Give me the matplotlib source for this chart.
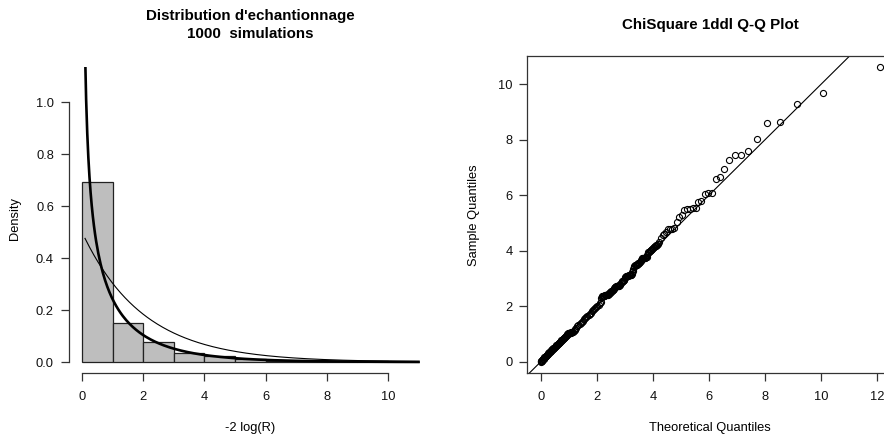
import math
import numpy as np
import matplotlib
matplotlib.use("Agg")
import matplotlib.pyplot as plt

plt.rcParams['font.family'] = ['Liberation Sans', 'DejaVu Sans']

# ---------------- data ----------------
bin_edges = [0, 1, 2, 3, 4, 5, 6, 7, 8, 9, 10, 11]
bin_density = [0.691, 0.151, 0.078, 0.033, 0.022, 0.010, 0.005, 0.004, 0.003, 0.002, 0.001]
df_thick = 1      # chi-square 1 ddl density
df_thin = 2       # chi-square 2 ddl density
curve_from, curve_to = 0.1, 11.0

x_ticks_left = [0, 2, 4, 6, 8, 10]
y_ticks_left = [0.0, 0.2, 0.4, 0.6, 0.8, 1.0]
y_ticklabels_left = ["0.0", "0.2", "0.4", "0.6", "0.8", "1.0"]

qq_theoretical = [
    0.00, 0.01, 0.02, 0.03, 0.05, 0.07, 0.09, 0.11, 0.13, 0.15, 0.18, 0.21, 0.24, 0.27, 0.30,
    0.33, 0.36, 0.39, 0.42, 0.45, 0.48, 0.51, 0.54, 0.57, 0.60, 0.63, 0.66, 0.69, 0.72, 0.75,
    0.78, 0.81, 0.84, 0.87, 0.90, 0.93, 0.96, 0.99, 1.02, 1.05, 1.08, 1.11, 1.14, 1.17, 1.20,
    1.23, 1.26, 1.30, 1.34, 1.38, 1.42, 1.46, 1.50, 1.54, 1.58, 1.62, 1.66, 1.70, 1.74, 1.78,
    1.82, 1.86, 1.90, 1.94, 1.98, 2.02, 2.06, 2.10, 2.14, 2.18, 2.21, 2.24, 2.27, 2.30, 2.34,
    2.38, 2.42, 2.46, 2.50, 2.54, 2.58, 2.62, 2.66, 2.70, 2.74, 2.78, 2.82, 2.86, 2.90, 2.94,
    2.98, 3.02, 3.06, 3.10, 3.14, 3.18, 3.22, 3.26, 3.30, 3.34, 3.38, 3.42, 3.46, 3.50, 3.54,
    3.58, 3.62, 3.66, 3.70, 3.74, 3.78, 3.82, 3.86, 3.90, 3.94, 3.98, 4.02, 4.07, 4.12, 4.17,
    4.23, 4.29, 4.35, 4.41, 4.47, 4.53, 4.60, 4.68, 4.76, 4.85, 4.94, 5.04, 5.12, 5.22, 5.32,
    5.42, 5.52, 5.61, 5.70, 5.86, 5.98, 6.10, 6.24, 6.39, 6.55, 6.73, 6.93, 7.14, 7.40, 7.71,
    8.07, 8.53, 9.14, 10.08, 12.12,
]
qq_sample = [
    0.00, 0.01, 0.03, 0.04, 0.06, 0.08, 0.10, 0.13, 0.15, 0.17, 0.20, 0.23, 0.27, 0.30, 0.33,
    0.36, 0.40, 0.42, 0.45, 0.48, 0.50, 0.53, 0.56, 0.60, 0.63, 0.66, 0.69, 0.72, 0.75, 0.78,
    0.81, 0.84, 0.87, 0.90, 0.94, 0.97, 1.00, 1.03, 1.04, 1.05, 1.06, 1.07, 1.08, 1.10, 1.13,
    1.17, 1.22, 1.27, 1.31, 1.35, 1.40, 1.44, 1.48, 1.52, 1.56, 1.61, 1.65, 1.69, 1.73, 1.77,
    1.81, 1.85, 1.89, 1.93, 1.97, 2.01, 2.05, 2.10, 2.16, 2.33, 2.36, 2.37, 2.38, 2.39, 2.40,
    2.42, 2.45, 2.48, 2.52, 2.56, 2.60, 2.66, 2.70, 2.71, 2.72, 2.74, 2.78, 2.84, 2.89, 2.92,
    2.95, 3.06, 3.09, 3.10, 3.11, 3.12, 3.14, 3.22, 3.33, 3.45, 3.48, 3.50, 3.52, 3.55, 3.60,
    3.66, 3.72, 3.74, 3.75, 3.76, 3.78, 3.92, 3.97, 4.00, 4.02, 4.07, 4.12, 4.16, 4.20, 4.24,
    4.33, 4.45, 4.57, 4.62, 4.69, 4.78, 4.80, 4.80, 4.81, 5.05, 5.21, 5.29, 5.46, 5.50, 5.52,
    5.53, 5.54, 5.76, 5.80, 6.05, 6.07, 6.07, 6.59, 6.66, 6.95, 7.26, 7.44, 7.44, 7.59, 8.03,
    8.60, 8.64, 9.28, 9.68, 10.61,
]
# additional points read from the dense (solid black) part of the band
qq_bulk_theoretical = [
    0.04, 0.06, 0.08, 0.10, 0.12, 0.14, 0.165, 0.195, 0.225, 0.255, 0.285, 0.315, 0.345,
    0.375, 0.405, 0.435, 0.465, 0.495, 0.525, 0.555, 0.585, 0.615, 0.645, 0.675, 0.705,
    0.735, 0.765, 0.795, 0.825, 0.855, 0.885, 0.915, 0.945, 0.975, 1.005, 1.035, 1.065,
    1.095, 1.125,
    2.16, 2.195, 2.225, 2.255, 2.285, 2.32, 2.36, 2.40, 2.44, 2.48, 2.52, 2.56, 2.60, 2.64,
    2.68, 2.72, 2.76, 2.80, 2.84, 2.88, 2.92, 2.96, 3.00, 3.04, 3.08, 3.12, 3.16, 3.20,
    3.24, 3.28, 3.32, 3.36, 3.40, 3.44, 3.48, 3.52, 3.56, 3.60, 3.64, 3.68, 3.72, 3.76,
    3.80, 3.84, 3.88, 3.92, 3.96, 4.00, 4.045, 4.095, 4.145,
]
qq_bulk_sample = [
    0.04, 0.08, 0.10, 0.11, 0.15, 0.16, 0.19, 0.22, 0.25, 0.29, 0.31, 0.35, 0.38,
    0.41, 0.44, 0.46, 0.50, 0.52, 0.55, 0.59, 0.61, 0.65, 0.67, 0.71, 0.73,
    0.77, 0.79, 0.83, 0.85, 0.89, 0.92, 0.96, 0.98, 1.02, 1.04, 1.04, 1.05,
    1.07, 1.08,
    2.30, 2.35, 2.37, 2.37, 2.39, 2.40, 2.41, 2.44, 2.47, 2.50, 2.54, 2.58, 2.63, 2.69,
    2.71, 2.71, 2.73, 2.76, 2.81, 2.87, 2.91, 2.93, 3.02, 3.08, 3.10, 3.10, 3.12, 3.13,
    3.17, 3.28, 3.42, 3.47, 3.49, 3.51, 3.54, 3.57, 3.63, 3.70, 3.73, 3.75, 3.75, 3.77,
    3.85, 3.95, 3.99, 4.01, 4.05, 4.10, 4.14, 4.18, 4.22,
]
x_ticks_right = [0, 2, 4, 6, 8, 10, 12]
y_ticks_right = [0, 2, 4, 6, 8, 10]

titles_left = "Distribution d'echantionnage\n1000  simulations"
title_right = "ChiSquare 1ddl Q-Q Plot"


def chi2_pdf(x, k):
    return x ** (k / 2 - 1) * np.exp(-x / 2) / (2 ** (k / 2) * math.gamma(k / 2))


W, H = 884, 440
fig = plt.figure(figsize=(W / 100, H / 100), dpi=100)
fs_tick = 9.3
fs_title = 10.9
axis_col = '#333333'

# ---------------- left panel ----------------
l_left, l_right, l_top, l_bottom = 68.5, 432.0, 67.0, 373.4
ax1 = fig.add_axes([l_left / W, 1 - l_bottom / H, (l_right - l_left) / W, (l_bottom - l_top) / H])
widths = np.diff(bin_edges)
ax1.bar(bin_edges[:-1], bin_density, width=widths, align='edge',
        color='#bebebe', edgecolor='#222222', linewidth=0.9, zorder=2)
xc = np.linspace(curve_from, curve_to, 301)
ax1.plot(xc, chi2_pdf(xc, df_thick), color='black', lw=1.9, zorder=3)
ax1.plot(xc, chi2_pdf(xc, df_thin), color='black', lw=0.8, zorder=3)
ax1.set_xlim(-0.44, 11.44)
ax1.set_ylim(-0.0438, 1.135)
for s in ['top', 'right']:
    ax1.spines[s].set_visible(False)
ax1.spines['left'].set_bounds(0, 1.0)
ax1.spines['bottom'].set_bounds(0, 10)
for s in ['left', 'bottom']:
    ax1.spines[s].set_color(axis_col)
    ax1.spines[s].set_linewidth(0.9)
ax1.set_xticks(x_ticks_left)
ax1.set_xticklabels([str(t) for t in x_ticks_left])
ax1.set_yticks(y_ticks_left)
ax1.set_yticklabels(y_ticklabels_left)
ax1.tick_params(axis='both', direction='out', length=5.5, width=0.9, color=axis_col,
                labelsize=fs_tick, labelcolor='#111111')
ax1.tick_params(axis='x', pad=7)
ax1.tick_params(axis='y', pad=5)

fig.text(250 / W, 1 - 16 / H, titles_left.split("\n")[0], ha='center', va='center',
         fontsize=fs_title, fontweight='bold')
fig.text(250 / W, 1 - 34 / H, titles_left.split("\n")[1], ha='center', va='center',
         fontsize=fs_title, fontweight='bold')
fig.text(250 / W, 1 - 428 / H, "-2 log(R)", ha='center', va='center', fontsize=fs_tick)
fig.text(15 / W, 1 - 218 / H, "Density", ha='center', va='center', rotation=90, fontsize=fs_tick)

# ---------------- right panel ----------------
r_left, r_right, r_top, r_bottom = 527.3, 894.0, 56.0, 373.4
ax2 = fig.add_axes([r_left / W, 1 - r_bottom / H, (r_right - r_left) / W, (r_bottom - r_top) / H])
ax2.plot(qq_theoretical + qq_bulk_theoretical, qq_sample + qq_bulk_sample,
         linestyle='none', marker='o', markersize=4.4,
         markerfacecolor='none', markeredgecolor='black', markeredgewidth=0.8, zorder=3)
ax2.axline((0, 0), slope=1, color='black', lw=0.8, zorder=2)
ax2.set_xlim(-0.485, 12.605)
ax2.set_ylim(-0.424, 11.02)
for s in ax2.spines.values():
    s.set_color(axis_col)
    s.set_linewidth(0.9)
ax2.set_xticks(x_ticks_right)
ax2.set_xticklabels([str(t) for t in x_ticks_right])
ax2.set_yticks(y_ticks_right)
ax2.set_yticklabels([str(t) for t in y_ticks_right])
ax2.tick_params(axis='both', direction='out', length=5.5, width=0.9, color=axis_col,
                labelsize=fs_tick, labelcolor='#111111')
ax2.tick_params(axis='x', pad=7)
ax2.tick_params(axis='y', pad=5)

fig.text(710 / W, 1 - 25 / H, title_right, ha='center', va='center',
         fontsize=fs_title, fontweight='bold')
fig.text(710 / W, 1 - 428 / H, "Theoretical Quantiles", ha='center', va='center', fontsize=fs_tick)
fig.text(474 / W, 1 - 215 / H, "Sample Quantiles", ha='center', va='center', rotation=90,
         fontsize=fs_tick)

fig.savefig("out.png", dpi=100)
